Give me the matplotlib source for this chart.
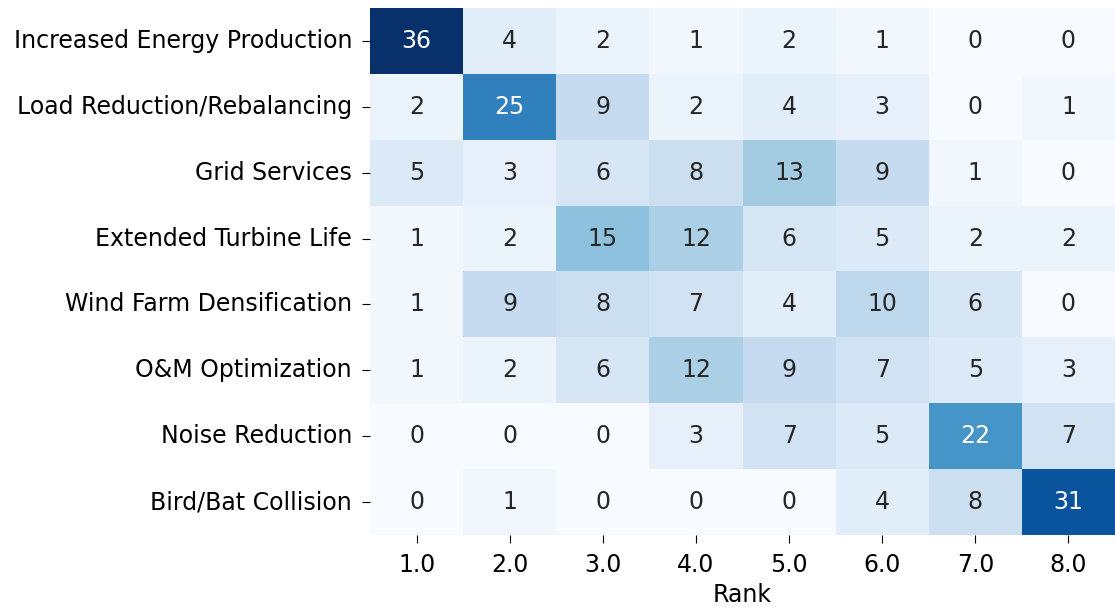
import matplotlib
matplotlib.use("Agg")
import matplotlib.pyplot as plt
import seaborn as sns
import numpy as np
import pandas as pd

categories = ["Increased Energy Production", "Load Reduction/Rebalancing", "Grid Services",
              "Extended Turbine Life", "Wind Farm Densification", "O&M Optimization",
              "Noise Reduction", "Bird/Bat Collision"]
ranks = [1.0, 2.0, 3.0, 4.0, 5.0, 6.0, 7.0, 8.0]
counts = [
    [36, 4, 2, 1, 2, 1, 0, 0],
    [2, 25, 9, 2, 4, 3, 0, 1],
    [5, 3, 6, 8, 13, 9, 1, 0],
    [1, 2, 15, 12, 6, 5, 2, 2],
    [1, 9, 8, 7, 4, 10, 6, 0],
    [1, 2, 6, 12, 9, 7, 5, 3],
    [0, 0, 0, 3, 7, 5, 22, 7],
    [0, 1, 0, 0, 0, 4, 8, 31],
]

df = pd.DataFrame(counts, index=categories, columns=ranks)
df.columns.name = "Rank"

fig, ax = plt.subplots(figsize=(11.15, 6.08), dpi=100)
fig.subplots_adjust(left=0.332, right=1.0, top=0.987, bottom=0.12)
sns.heatmap(df, cmap="Blues", annot=True, cbar=False, ax=ax, annot_kws={"size": 17})
ax.tick_params(labelsize=17, length=6, pad=7)
ax.set_xlabel("Rank", fontsize=17, labelpad=4)
ax.set_ylabel("")
plt.yticks(rotation=0)
fig.savefig("out.png", dpi=100)
